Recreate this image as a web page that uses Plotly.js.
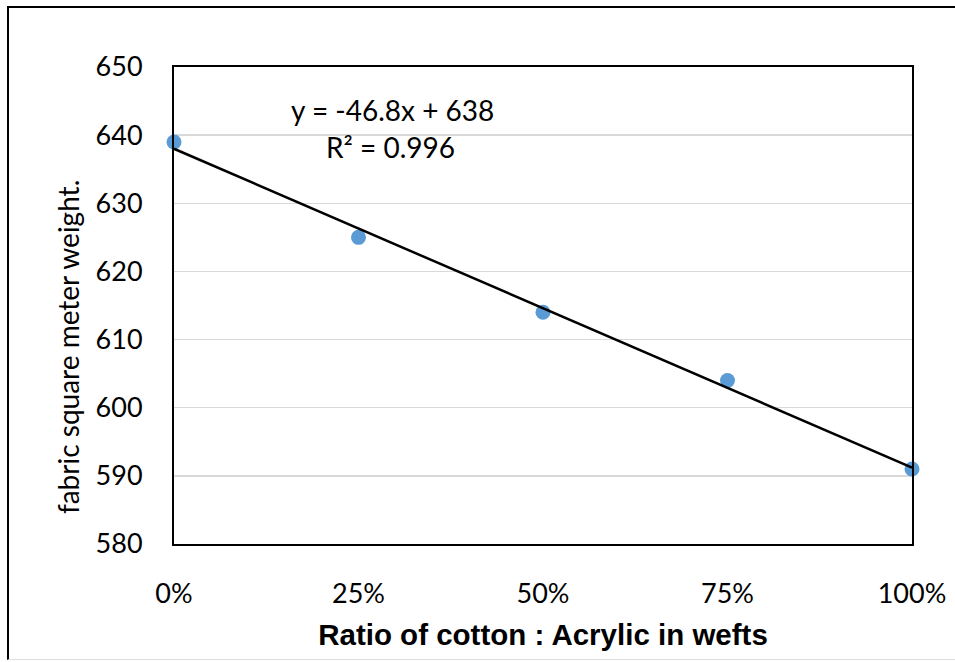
<!DOCTYPE html>
<html>
<head>
<meta charset="utf-8">
<script src="https://cdn.plot.ly/plotly-3.0.1.min.js"></script>
<style>
  html, body { margin: 0; padding: 0; background: #fff; }
  #wrap { position: relative; width: 955px; height: 662px; overflow: hidden; }
  #chart { width: 955px; height: 662px; }
  #frame { position: absolute; left: 7px; top: 6px; width: 1000px; height: 654px;
           border-left: 2.5px solid #000; border-top: 2.5px solid #000;
           border-bottom: 1px solid #ddd; pointer-events: none; box-sizing: border-box; }
</style>
</head>
<body>
<div id="wrap">
  <div id="chart"></div>
  <div id="frame"></div>
</div>
<script>
// Data
const ratios = [0, 0.25, 0.5, 0.75, 1.0];          // Ratio of cotton : Acrylic in wefts
const weights = [639, 625, 614, 604, 591];          // fabric square meter weight
const xTickVals = [0, 0.25, 0.5, 0.75, 1.0];
const xTickText = ['0%', '25%', '50%', '75%', '100%'];
const yTickVals = [580, 590, 600, 610, 620, 630, 640, 650];
const eqText = 'y = -46.8x + 638';
const r2Text = 'R² = 0.996';

// Linear least-squares trendline from the data
const n = ratios.length;
const mx = ratios.reduce((a, b) => a + b, 0) / n;
const my = weights.reduce((a, b) => a + b, 0) / n;
let sxy = 0, sxx = 0;
for (let i = 0; i < n; i++) { sxy += (ratios[i] - mx) * (weights[i] - my); sxx += (ratios[i] - mx) ** 2; }
const slope = sxy / sxx;
const intercept = my - slope * mx;
const trendX = [ratios[0], ratios[n - 1]];
const trendY = trendX.map(x => intercept + slope * x);

const tickFont = { family: 'Lato, Open Sans, sans-serif', size: 27, color: '#000' };

const data = [
  {
    x: ratios, y: weights, type: 'scatter', mode: 'markers',
    marker: { color: '#5B9BD5', size: 15 },
    cliponaxis: false, showlegend: false, hoverinfo: 'x+y'
  },
  {
    x: trendX, y: trendY, type: 'scatter', mode: 'lines',
    line: { color: '#000', width: 2.5 },
    cliponaxis: false, showlegend: false, hoverinfo: 'skip'
  }
];

const layout = {
  width: 955, height: 662,
  margin: { l: 174, r: 43, t: 67, b: 118 },
  paper_bgcolor: '#fff', plot_bgcolor: '#fff',
  showlegend: false,
  xaxis: {
    range: [0, 1], tickvals: xTickVals, ticktext: xTickText,
    showgrid: false, zeroline: false,
    showline: true, linecolor: '#000', linewidth: 2, mirror: true,
    ticks: '', tickfont: tickFont, ticklabelstandoff: 25,
    title: { text: 'Ratio of cotton : Acrylic in wefts',
             font: { family: 'Liberation Sans, Arial, sans-serif', size: 29.5, color: '#000', weight: 'bold' },
             standoff: 16 }
  },
  yaxis: {
    range: [580, 650], tickvals: yTickVals,
    showgrid: true, gridcolor: '#d9d9d9', gridwidth: 1.5, zeroline: false,
    showline: true, linecolor: '#000', linewidth: 2, mirror: true,
    ticks: '', tickfont: tickFont, ticklabelstandoff: 24
  },
  annotations: [
    { xref: 'x', yref: 'y', x: 0.2954, y: 643.7, text: eqText, showarrow: false,
      xanchor: 'center', yanchor: 'middle',
      font: { family: 'Lato, Open Sans, sans-serif', size: 28, color: '#000' } },
    { xref: 'x', yref: 'y', x: 0.2927, y: 638.3, text: r2Text, showarrow: false,
      xanchor: 'center', yanchor: 'middle',
      font: { family: 'Lato, Open Sans, sans-serif', size: 28, color: '#000' } },
    { xref: 'paper', yref: 'paper', x: -0.1436, y: 0.413, text: 'fabric square meter weight.',
      textangle: -90, showarrow: false, xanchor: 'center', yanchor: 'middle',
      font: { family: 'Lato, Open Sans, sans-serif', size: 28, color: '#000' } }
  ]
};

Plotly.newPlot('chart', data, layout, { displayModeBar: false, staticPlot: true });
</script>
</body>
</html>
